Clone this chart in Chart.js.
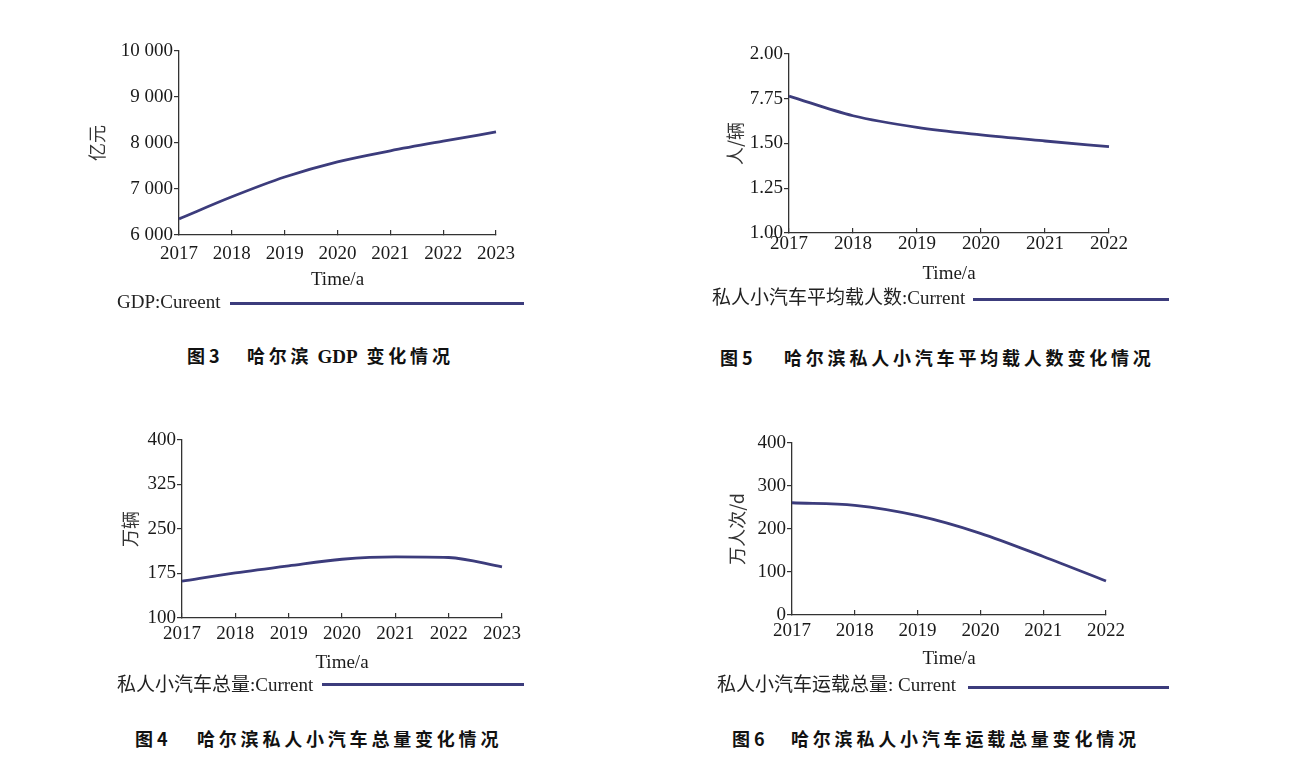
<!DOCTYPE html>
<html>
<head>
<meta charset="utf-8">
<script src="https://cdn.jsdelivr.net/npm/chart.js@4.4.1/dist/chart.umd.min.js"></script>
<style>
body { margin: 0; background: #fff; width: 1303px; height: 759px; position: relative; overflow: hidden; }
canvas { position: absolute; }
.legend { position: absolute; font-family: "Liberation Serif", "Noto Sans CJK SC", serif; font-size: 19px; color: #222; white-space: nowrap; line-height: 22px; height: 22px; }
.legline { position: absolute; height: 2.5px; background: #3c3c7c; }
.cap { position: absolute; font-family: "Noto Sans CJK SC", sans-serif; font-weight: bold; font-size: 18px; color: #111; white-space: nowrap; line-height: 24px; letter-spacing: 3.8px; }
.cap .num { position: absolute; left: 0; top: 0; letter-spacing: 0; }
.cap .txt { position: absolute; top: 0; }
.cap .lat { font-family: "Liberation Serif", serif; font-size: 19px; letter-spacing: 0; margin: 0 9px 0 5px; }
</style>
</head>
<body>
<canvas id="c1"></canvas>
<canvas id="c2"></canvas>
<canvas id="c3"></canvas>
<canvas id="c4"></canvas>

<div class="legend" style="left:117px;top:291px">GDP:Cureent</div>
<div class="legline" style="left:230px;top:302px;width:294px"></div>
<div class="legend" style="left:712px;top:287px">私人小汽车平均载人数:Current</div>
<div class="legline" style="left:973px;top:298px;width:196px"></div>
<div class="legend" style="left:117px;top:674px">私人小汽车总量:Current</div>
<div class="legline" style="left:322px;top:683px;width:202px"></div>
<div class="legend" style="left:717px;top:674px">私人小汽车运载总量: Current</div>
<div class="legline" style="left:968px;top:686px;width:201px"></div>

<div class="cap" style="left:187px;top:343px"><span class="num">图 3</span><span class="txt" style="left:60px">哈尔滨<span class="lat">GDP</span>变化情况</span></div>
<div class="cap" style="left:720px;top:345px"><span class="num">图 5</span><span class="txt" style="left:64px">哈尔滨私人小汽车平均载人数变化情况</span></div>
<div class="cap" style="left:135px;top:726px"><span class="num">图 4</span><span class="txt" style="left:62px">哈尔滨私人小汽车总量变化情况</span></div>
<div class="cap" style="left:732px;top:726px"><span class="num">图 6</span><span class="txt" style="left:59px">哈尔滨私人小汽车运载总量变化情况</span></div>

<script>
// 数据
const years7 = ['2017', '2018', '2019', '2020', '2021', '2022', '2023'];
const years6 = ['2017', '2018', '2019', '2020', '2021', '2022'];

const gdpValues = [6350, 6830, 7260, 7590, 7830, 8040, 8240];
const gdpTicks = ['6 000', '7 000', '8 000', '9 000', '10 000'];

const occupancyValues = [1.765, 1.655, 1.59, 1.548, 1.514, 1.482];
const occupancyTicks = ['1.00', '1.25', '1.50', '7.75', '2.00'];

const carStockValues = [162, 176, 188, 199, 203, 202, 186];
const carStockTicks = ['100', '175', '250', '325', '400'];

const carTripValues = [261, 255, 231, 190, 136, 79];
const carTripTicks = ['0', '100', '200', '300', '400'];

const lineColor = '#3c3c7c';
const axisColor = '#333';
const textColor = '#1a1a1a';
const serif = '"Liberation Serif", "Times New Roman", serif';

function makeChart(id, cfg) {
    const yw = 120, xh = 65, padT = 16, padR = 40;
    const a = cfg.area;
    const c = document.getElementById(id);
    c.width = yw + (a.r - a.l) + padR;
    c.height = padT + (a.b - a.t) + xh;
    c.style.left = (a.l - yw) + 'px';
    c.style.top = (a.t - padT) + 'px';

    new Chart(c, {
        type: 'line',
        data: {
            labels: cfg.labels,
            datasets: [{
                data: cfg.values,
                borderColor: lineColor,
                borderWidth: 2.8,
                pointRadius: 0,
                fill: false,
                cubicInterpolationMode: 'monotone'
            }]
        },
        options: {
            responsive: false,
            animation: false,
            devicePixelRatio: 1,
            layout: { padding: { top: padT, right: padR, left: 0, bottom: 0 } },
            plugins: { legend: { display: false }, tooltip: { enabled: false } },
            scales: {
                x: {
                    type: 'category',
                    offset: false,
                    grid: { drawOnChartArea: false, tickLength: -5, color: axisColor, lineWidth: 1.2 },
                    border: { color: axisColor, width: 1.3 },
                    ticks: { padding: cfg.xPad, autoSkip: false, maxRotation: 0, color: textColor, font: { family: serif, size: 19 } },
                    title: { display: true, text: 'Time/a', color: textColor, font: { family: serif, size: 19 }, padding: { top: 0, bottom: cfg.xTitlePad } },
                    afterFit(s) { s.height = xh; }
                },
                y: {
                    min: cfg.min,
                    max: cfg.max,
                    grid: { drawOnChartArea: false, tickLength: 5, color: axisColor, lineWidth: 1.2 },
                    border: { color: axisColor, width: 1.3 },
                    ticks: {
                        stepSize: cfg.step,
                        padding: 1,
                        color: textColor,
                        font: { family: serif, size: 19 },
                        callback: (v, i) => cfg.ticks[i]
                    },
                    title: { display: true, text: cfg.yTitle, color: '#333', font: { family: '"Noto Sans CJK SC", sans-serif', size: 18 }, padding: { top: cfg.yTitlePad, bottom: 0 } },
                    afterFit(s) { s.width = yw; }
                }
            }
        }
    });
}

makeChart('c1', {
    area: { l: 179, r: 496, t: 51, b: 235 },
    labels: years7, values: gdpValues, ticks: gdpTicks,
    min: 6000, max: 10000, step: 1000,
    yTitle: '亿元', yTitlePad: 27, xPad: 13, xTitlePad: 9
});
makeChart('c2', {
    area: { l: 789, r: 1109, t: 54, b: 233 },
    labels: years6, values: occupancyValues, ticks: occupancyTicks,
    min: 1, max: 2, step: 0.25,
    yTitle: '人/辆', yTitlePad: 55, xPad: 5, xTitlePad: 13
});
makeChart('c3', {
    area: { l: 182, r: 502, t: 440, b: 618 },
    labels: years7, values: carStockValues, ticks: carStockTicks,
    min: 100, max: 400, step: 75,
    yTitle: '万辆', yTitlePad: 57, xPad: 10, xTitlePad: 9
});
makeChart('c4', {
    area: { l: 792, r: 1106, t: 443, b: 615 },
    labels: years6, values: carTripValues, ticks: carTripTicks,
    min: 0, max: 400, step: 100,
    yTitle: '万人次/d', yTitlePad: 54, xPad: 10, xTitlePad: 10
});
</script>
</body>
</html>
